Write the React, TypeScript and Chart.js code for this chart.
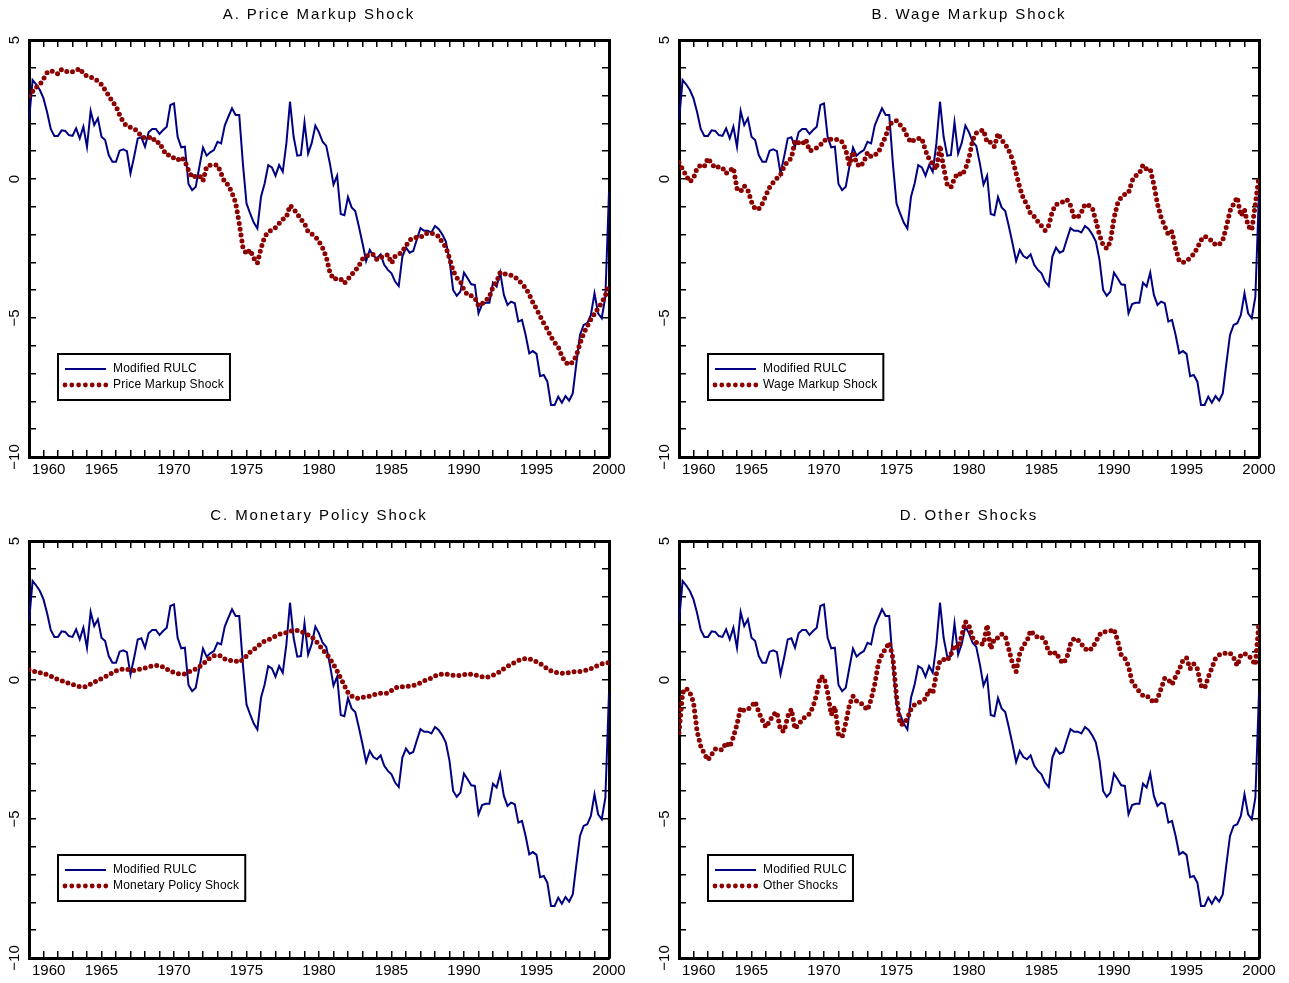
import React, { useEffect, useRef } from 'react';
import { Chart, registerables } from 'chart.js';

Chart.register(...registerables);

// ---------- data (quarterly, 1960Q1 .. 2000Q1) ----------
const START_YEAR = 1960;
const PERIODS_PER_YEAR = 4;

const modifiedRulc = [
  2.1, 3.56, 3.4, 3.2,
  2.9, 2.4, 1.8, 1.55,
  1.55, 1.75, 1.73, 1.58,
  1.55, 1.82, 1.46, 1.88,
  1.16, 2.45, 1.94, 2.18,
  1.52, 1.4, 0.86, 0.62,
  0.62, 1.02, 1.07, 1.0,
  0.2, 0.8, 1.46, 1.5,
  1.16, 1.68, 1.8, 1.8,
  1.62, 1.76, 1.88, 2.66,
  2.72, 1.52, 1.14, 1.16,
  -0.18, -0.4, -0.28, 0.44,
  1.13, 0.84, 0.96, 1.04,
  1.34, 1.28, 1.92, 2.24,
  2.54, 2.3, 2.3, 0.56,
  -0.88, -1.24, -1.57, -1.78,
  -0.64, -0.16, 0.5, 0.42,
  0.12, 0.5, 0.26, 1.28,
  2.78, 1.52, 0.84, 0.86,
  2.04, 0.92, 1.3, 1.92,
  1.68, 1.34, 1.19, 0.56,
  -0.2, 0.12, -1.26, -1.3,
  -0.65, -1.02, -1.15, -1.71,
  -2.31, -2.95, -2.55, -2.77,
  -2.85, -2.71, -3.09, -3.27,
  -3.39, -3.69, -3.85, -2.79,
  -2.47, -2.65, -2.59, -2.17,
  -1.77, -1.86, -1.86, -1.92,
  -1.69, -1.8, -1.99, -2.25,
  -2.91, -3.99, -4.2, -4.05,
  -3.37, -3.57, -3.79, -3.81,
  -4.83, -4.5, -4.45, -4.45,
  -3.73, -3.87, -3.37, -4.17,
  -4.53, -4.41, -4.47, -5.13,
  -5.07, -5.61, -6.27, -6.19,
  -6.29, -7.09, -7.05, -7.29,
  -8.13, -8.13, -7.83, -8.05,
  -7.81, -7.97, -7.71, -6.63,
  -5.61, -5.25, -5.19, -4.89,
  -4.11, -4.83, -5.01, -4.23,
  -0.46,
];

const priceMarkupShock = [
  2.99, 3.15, 3.3, 3.4,
  3.6, 3.82, 3.9, 3.85,
  3.78, 3.94, 3.88, 3.84,
  3.86, 3.9, 3.98, 3.8,
  3.7, 3.66, 3.62, 3.52,
  3.4, 3.2, 3.0, 2.78,
  2.62, 2.3, 2.05, 1.9,
  1.86, 1.8, 1.72, 1.52,
  1.48, 1.48, 1.52, 1.31,
  1.31, 1.05, 0.86, 0.86,
  0.75, 0.68, 0.78, 0.65,
  0.32, 0.06, 0.1, 0.12,
  -0.07, 0.45, 0.5, 0.5,
  0.5, 0.2, -0.12, -0.22,
  -0.5, -0.85, -1.6, -2.45,
  -2.7, -2.55, -2.85, -3.03,
  -2.5, -2.08, -1.9, -1.84,
  -1.75, -1.6, -1.45, -1.38,
  -0.95, -1.08, -1.25, -1.45,
  -1.6, -1.9, -1.98, -2.07,
  -2.25, -2.48, -2.8, -3.35,
  -3.61, -3.57, -3.6, -3.75,
  -3.6, -3.43, -3.3, -3.12,
  -2.88, -2.78, -2.72, -2.72,
  -2.9, -2.82, -2.78, -2.72,
  -3.03, -2.78, -2.72, -2.6,
  -2.4, -2.2, -2.12, -2.1,
  -2.1, -2.0, -1.95, -1.95,
  -2.0, -2.06, -2.28, -2.45,
  -2.85, -3.3, -3.55, -3.69,
  -3.99, -4.17, -4.2, -4.28,
  -4.56, -4.48, -4.38, -4.23,
  -3.88, -3.7, -3.36, -3.4,
  -3.44, -3.46, -3.52, -3.63,
  -3.77, -3.92, -4.15, -4.44,
  -4.68, -4.94, -5.19, -5.4,
  -5.68, -5.88, -6.04, -6.37,
  -6.6, -6.68, -6.58, -6.35,
  -5.92, -5.55, -5.3, -5.05,
  -4.85, -4.65, -4.45, -4.2,
  -3.75,
];

const wageMarkupShock = [
  0.59, 0.35, 0.12, -0.1,
  0.03, 0.4, 0.5, 0.45,
  0.75, 0.55, 0.4, 0.44,
  0.4, 0.2, 0.3, 0.4,
  -0.34, -0.45, -0.25, -0.4,
  -0.82, -1.08, -1.08, -0.88,
  -0.58, -0.3, -0.12, 0.02,
  0.15, 0.45, 0.64, 0.75,
  1.38, 1.3, 1.25, 1.42,
  1.01, 1.05, 1.12, 1.22,
  1.38, 1.43, 1.43, 1.43,
  1.42, 1.33, 1.05, 0.5,
  0.98, 0.55, 0.44, 0.62,
  0.95, 0.8, 0.86, 0.95,
  1.25, 1.52, 1.95, 2.05,
  2.1, 1.95, 1.8, 1.52,
  1.32, 1.42, 1.46, 1.46,
  1.02, 0.72, 0.54, 0.35,
  1.2, 0.4, -0.2, -0.3,
  0.02, 0.22, 0.14, 0.35,
  0.75, 1.4, 1.65, 1.72,
  1.76, 1.32, 1.32, 1.16,
  1.64, 1.4, 1.26, 1.02,
  0.7, 0.2, -0.3, -0.7,
  -0.92, -1.26, -1.35, -1.53,
  -1.69, -1.85, -1.67, -1.16,
  -0.92, -0.87, -0.82, -0.74,
  -0.95, -1.38, -1.38, -1.2,
  -0.91, -0.95, -1.03, -1.5,
  -2.02, -2.38, -2.5, -2.25,
  -1.4, -0.88, -0.65, -0.55,
  -0.5, -0.06, 0.12, 0.2,
  0.5, 0.35, 0.35, -0.2,
  -0.9, -1.38, -1.7, -2.0,
  -1.89, -2.5, -2.95, -3.0,
  -2.95, -2.83, -2.7, -2.47,
  -2.2, -2.06, -2.12, -2.23,
  -2.37, -2.36, -2.2, -1.72,
  -1.15, -0.9, -0.66, -1.32,
  -1.1, -1.69, -1.84, -0.9,
  0.11,
];

const monetaryPolicyShock = [
  0.37, 0.34, 0.28, 0.26,
  0.23, 0.19, 0.14, 0.07,
  0.02, -0.02, -0.08, -0.12,
  -0.16, -0.21, -0.24, -0.25,
  -0.23, -0.15, -0.08, -0.01,
  0.05, 0.11, 0.19, 0.26,
  0.33, 0.37, 0.4, 0.38,
  0.36, 0.34, 0.37, 0.4,
  0.43, 0.47, 0.51, 0.52,
  0.52, 0.47, 0.4, 0.31,
  0.27, 0.23, 0.22, 0.22,
  0.28, 0.35, 0.39, 0.48,
  0.57, 0.7, 0.8, 0.87,
  0.89, 0.86, 0.76, 0.71,
  0.7, 0.68, 0.64, 0.74,
  0.86, 1.0, 1.1, 1.2,
  1.32, 1.4, 1.45, 1.51,
  1.58, 1.64, 1.69, 1.7,
  1.74, 1.79, 1.78, 1.75,
  1.68, 1.62, 1.55, 1.42,
  1.27, 1.08, 0.96, 0.77,
  0.56, 0.33, 0.07, -0.2,
  -0.45, -0.58, -0.64, -0.66,
  -0.63, -0.6, -0.58, -0.53,
  -0.5, -0.48, -0.48, -0.47,
  -0.38, -0.29, -0.25, -0.24,
  -0.24, -0.22, -0.2, -0.15,
  -0.1, -0.03, 0.02, 0.07,
  0.14, 0.19, 0.21, 0.21,
  0.19, 0.17, 0.16, 0.17,
  0.19, 0.22, 0.2, 0.18,
  0.15, 0.12, 0.1, 0.12,
  0.17, 0.24, 0.3, 0.41,
  0.49, 0.56, 0.63, 0.7,
  0.74, 0.77, 0.76, 0.72,
  0.66, 0.59, 0.51, 0.4,
  0.33, 0.29, 0.26, 0.24,
  0.25, 0.27, 0.29, 0.3,
  0.31, 0.33, 0.36, 0.41,
  0.47, 0.53, 0.58, 0.61,
  0.62,
];

const otherShocks = [
  -1.9, -0.45, -0.3, -0.45,
  -0.8, -1.85, -2.38, -2.65,
  -2.88, -2.68, -2.48, -2.52,
  -2.5, -2.25, -2.4, -2.05,
  -1.6, -1.0, -1.1, -1.05,
  -0.95, -0.78, -1.15, -1.45,
  -1.7, -1.48, -1.25, -1.16,
  -1.8, -1.85, -1.3, -1.05,
  -1.75, -1.6, -1.42, -1.3,
  -1.22, -0.95, -0.5, 0.12,
  0.1, -0.45, -1.25, -0.96,
  -1.95, -2.05, -1.55, -0.9,
  -0.58, -0.76, -0.8, -0.94,
  -1.08, -0.7, -0.15, 0.6,
  0.94, 1.12, 1.35, 0.8,
  -0.6, -1.6, -1.58, -1.38,
  -1.05, -0.88, -0.82, -0.75,
  -0.68, -0.36, -0.48, 0.22,
  0.7, 0.74, 0.7, 0.92,
  1.25, 1.15, 1.6, 2.1,
  1.95, 1.52, 1.35, 1.3,
  1.29, 1.98, 1.12, 1.48,
  1.52, 1.65, 1.58, 1.1,
  0.6, 0.3, 0.96, 1.25,
  1.4, 1.78, 1.62, 1.53,
  1.55, 1.4, 1.0, 0.91,
  1.0, 0.75, 0.6, 0.8,
  1.3, 1.5, 1.45, 1.3,
  1.12, 1.05, 1.15, 1.38,
  1.63, 1.74, 1.74, 1.76,
  1.82, 1.42, 0.9, 0.78,
  0.5, -0.08, -0.25, -0.42,
  -0.56, -0.56, -0.68, -0.82,
  -0.68, -0.3, 0.06, 0.01,
  -0.16, 0.12, 0.38, 0.7,
  0.8, 0.4, 0.58, 0.4,
  -0.2, -0.3, 0.1, 0.44,
  0.78, 0.9, 0.95, 0.97,
  0.97, 0.8, 0.52, 0.9,
  0.95, 0.9, 0.75, 0.55,
  2.07,
];

// axes
const X_MIN = 1960;
const X_MAX = 2000;
const Y_MIN = -10;
const Y_MAX = 5;
const xLabelYears = [1960, 1965, 1970, 1975, 1980, 1985, 1990, 1995, 2000];
const yLabelValues = [-10, -5, 0, 5];
const yLabelTexts = ['\u221210', '\u22125', '0', '5'];

const RULC_LABEL = 'Modified RULC';
const BLUE = '#000082';
const RED = '#8c0000';
const FONT = '"Liberation Sans", Arial, sans-serif';

const panels = [
  { title: 'A. Price Markup Shock', shockLabel: 'Price Markup Shock', shock: priceMarkupShock, left: 0, top: 0 },
  { title: 'B. Wage Markup Shock', shockLabel: 'Wage Markup Shock', shock: wageMarkupShock, left: 650, top: 0 },
  { title: 'C. Monetary Policy Shock', shockLabel: 'Monetary Policy Shock', shock: monetaryPolicyShock, left: 0, top: 501 },
  { title: 'D. Other Shocks', shockLabel: 'Other Shocks', shock: otherShocks, left: 650, top: 501 },
];

const toXY = (arr: number[]) => arr.map((v, i) => ({ x: START_YEAR + i / PERIODS_PER_YEAR, y: v }));

const yearTicks: number[] = [];
for (let y = X_MIN; y <= X_MAX; y++) yearTicks.push(y);
const unitTicks: number[] = [];
for (let v = Y_MIN; v <= Y_MAX; v++) unitTicks.push(v);

const CANVAS_W = 640;
const CANVAS_H = 490;

function makeDecorPlugin(title: string, shockLabel: string) {
  return {
    id: 'decor',
    afterDraw(chart: any) {
      const { ctx, chartArea } = chart;
      const xs = chart.scales.x;
      ctx.save();
      // title
      ctx.fillStyle = '#000';
      ctx.font = `15px ${FONT}`;
      (ctx as any).letterSpacing = '1.9px';
      ctx.textAlign = 'center';
      ctx.textBaseline = 'middle';
      ctx.fillText(title, (chartArea.left + chartArea.right) / 2, 15);
      (ctx as any).letterSpacing = '0px';
      // first year label, shifted inside
      ctx.textAlign = 'left';
      ctx.fillText(String(X_MIN), xs.getPixelForValue(X_MIN) + 3, chartArea.bottom + 13);
      // legend
      ctx.font = `12px ${FONT}`;
      (ctx as any).letterSpacing = '0.2px';
      const boxL = chartArea.left + 29;
      const boxT = chartArea.top + 314;
      const textX = boxL + 55;
      const w = Math.max(ctx.measureText(RULC_LABEL).width, ctx.measureText(shockLabel).width);
      const boxW = 55 + w + 6;
      const boxH = 46;
      ctx.fillStyle = '#fff';
      ctx.fillRect(boxL, boxT, boxW, boxH);
      ctx.strokeStyle = '#000';
      ctx.lineWidth = 2;
      ctx.strokeRect(boxL, boxT, boxW, boxH);
      // blue sample
      ctx.beginPath();
      ctx.strokeStyle = BLUE;
      ctx.lineWidth = 2;
      ctx.moveTo(boxL + 7, boxT + 15);
      ctx.lineTo(boxL + 48, boxT + 15);
      ctx.stroke();
      // red sample
      ctx.beginPath();
      ctx.strokeStyle = RED;
      ctx.lineWidth = 4.8;
      ctx.lineCap = 'round';
      ctx.setLineDash([0, 6.8]);
      ctx.moveTo(boxL + 7, boxT + 31);
      ctx.lineTo(boxL + 48.5, boxT + 31);
      ctx.stroke();
      ctx.setLineDash([]);
      ctx.fillStyle = '#000';
      ctx.textBaseline = 'middle';
      ctx.fillText(RULC_LABEL, textX, boxT + 15);
      ctx.fillText(shockLabel, textX, boxT + 31);
      ctx.restore();
    },
  };
}

function Panel(props: { title: string; shockLabel: string; shock: number[]; left: number; top: number }) {
  const ref = useRef<HTMLCanvasElement | null>(null);
  useEffect(() => {
    if (!ref.current) return;
    const grid = {
      drawOnChartArea: false,
      drawTicks: true,
      tickLength: -7,
      lineWidth: 1.5,
      color: '#000',
    };
    const border = { display: true, color: '#000', width: 3 };
    const chart = new Chart(ref.current, {
      type: 'line',
      data: {
        datasets: [
          {
            label: RULC_LABEL,
            data: toXY(modifiedRulc),
            borderColor: BLUE,
            borderWidth: 2,
            pointRadius: 0,
            tension: 0,
            order: 2,
          },
          {
            label: props.shockLabel,
            data: toXY(props.shock),
            borderColor: RED,
            borderWidth: 5,
            borderDash: [0, 5.9],
            borderCapStyle: 'round',
            pointRadius: 0,
            tension: 0,
            order: 1,
          },
        ],
      },
      options: {
        animation: false,
        responsive: false,
        devicePixelRatio: 1,
        layout: { padding: { top: 40, left: 0, right: 0, bottom: 0 } },
        plugins: { legend: { display: false }, title: { display: false }, tooltip: { enabled: false } },
        scales: {
          x: {
            type: 'linear',
            position: 'bottom',
            min: X_MIN,
            max: X_MAX,
            afterBuildTicks: (s: any) => { s.ticks = yearTicks.map((v) => ({ value: v })); },
            afterFit: (s: any) => { s.height = 33; },
            grid,
            border,
            ticks: {
              autoSkip: false,
              maxRotation: 0,
              minRotation: 0,
              padding: 11,
              color: '#000',
              font: { family: FONT, size: 15 },
              callback: (v: any) => (xLabelYears.includes(v) && v !== X_MIN ? String(v) : ''),
            },
          },
          x2: {
            type: 'linear',
            position: 'top',
            min: X_MIN,
            max: X_MAX,
            afterBuildTicks: (s: any) => { s.ticks = yearTicks.map((v) => ({ value: v })); },
            afterFit: (s: any) => { s.height = 0; },
            grid,
            border,
            ticks: { display: false, autoSkip: false },
          },
          y: {
            type: 'linear',
            position: 'left',
            min: Y_MIN,
            max: Y_MAX,
            afterBuildTicks: (s: any) => { s.ticks = unitTicks.map((v) => ({ value: v })); },
            afterFit: (s: any) => { s.width = 29; },
            grid,
            border,
            ticks: {
              autoSkip: false,
              minRotation: 90,
              maxRotation: 90,
              crossAlign: 'center',
              padding: 8.3,
              color: '#000',
              font: { family: FONT, size: 15 },
              callback: (v: any) => {
                const idx = yLabelValues.indexOf(v);
                return idx >= 0 ? yLabelTexts[idx] : '';
              },
            },
          },
          y2: {
            type: 'linear',
            position: 'right',
            min: Y_MIN,
            max: Y_MAX,
            afterBuildTicks: (s: any) => { s.ticks = unitTicks.map((v) => ({ value: v })); },
            afterFit: (s: any) => { s.width = 31; },
            grid,
            border,
            ticks: { display: false, autoSkip: false },
          },
        },
      } as any,
      plugins: [makeDecorPlugin(props.title, props.shockLabel)],
    } as any);
    return () => chart.destroy();
  }, []);
  return (
    <canvas
      ref={ref}
      width={CANVAS_W}
      height={CANVAS_H}
      style={{ position: 'absolute', left: props.left, top: props.top, width: CANVAS_W, height: CANVAS_H }}
    />
  );
}

export default function App() {
  return (
    <div
      style={{
        position: 'absolute',
        left: 0,
        top: 0,
        width: 1289,
        height: 983,
        overflow: 'hidden',
        background: '#fff',
      }}
    >
      {panels.map((p) => (
        <Panel key={p.title} {...p} />
      ))}
    </div>
  );
}
